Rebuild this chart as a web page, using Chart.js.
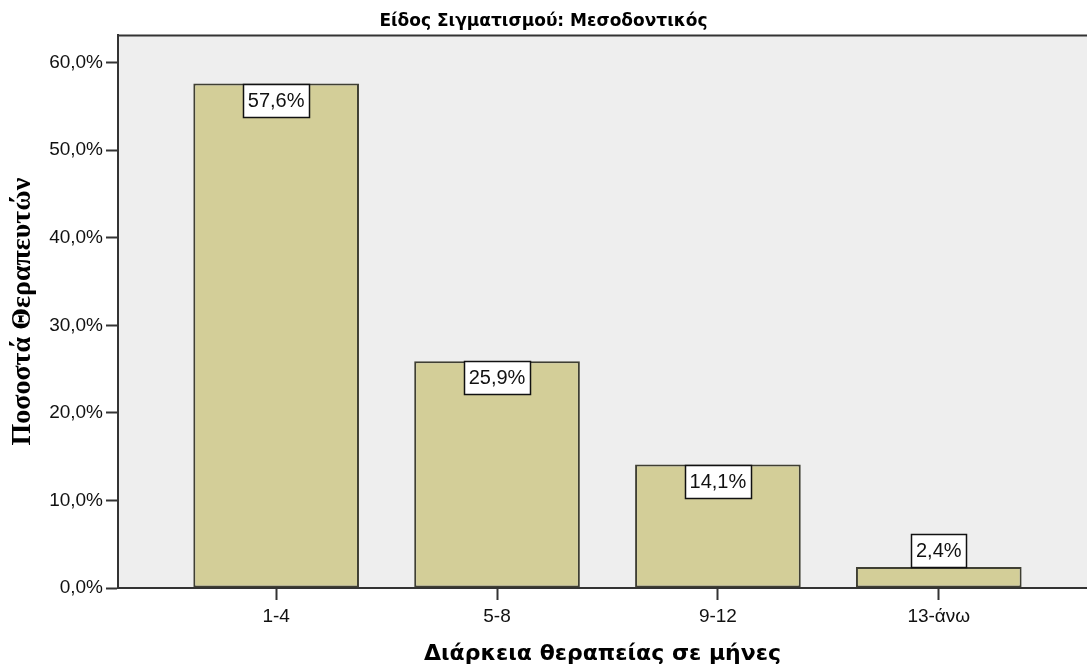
<!DOCTYPE html>
<html>
<head>
<meta charset="utf-8">
<script src="https://cdn.jsdelivr.net/npm/chart.js@4.4.1/dist/chart.umd.min.js"></script>
<style>
  html, body { margin: 0; padding: 0; background: #ffffff; overflow: hidden; }
  #wrap { width: 1087px; height: 671px; }
</style>
</head>
<body>
<div id="wrap"><canvas id="chart" width="1087" height="671"></canvas></div>
<script>
// Therapy duration groups and share of therapists in each
const categories = ['1-4', '5-8', '9-12', '13-άνω'];
const percentages = [57.6, 25.9, 14.1, 2.4];
const yTickValues = [0, 10, 20, 30, 40, 50, 60];

const chartTitle = 'Είδος Σιγματισμού: Μεσοδοντικός';
const xTitle = 'Διάρκεια θεραπείας σε μήνες';
const yTitle = 'Ποσοστά Θεραπευτών';

const pct = v => v.toFixed(1).replace('.', ',') + '%';

// Grey plot panel with a top edge line
const panelPlugin = {
  id: 'panel',
  beforeDraw(chart) {
    const { ctx, chartArea: a } = chart;
    ctx.save();
    ctx.fillStyle = '#eeeeee';
    ctx.fillRect(a.left, a.top, a.right - a.left, a.bottom - a.top);
    ctx.strokeStyle = '#333333';
    ctx.lineWidth = 2;
    ctx.beginPath();
    ctx.moveTo(a.left, a.top);
    ctx.lineTo(a.right + 2, a.top);
    ctx.stroke();
    ctx.restore();
  }
};

// Boxed value labels at the top of each bar (above it when the bar is too short)
const valueBoxPlugin = {
  id: 'valueBoxes',
  afterDatasetsDraw(chart) {
    const { ctx } = chart;
    const meta = chart.getDatasetMeta(0);
    const ds = chart.data.datasets[0];
    ctx.save();
    ctx.font = '20px "Liberation Sans", Arial, sans-serif';
    ctx.textAlign = 'center';
    ctx.textBaseline = 'middle';
    meta.data.forEach((bar, i) => {
      const text = pct(ds.data[i].y);
      const w = Math.round(ctx.measureText(text).width + 9);
      const h = 33;
      const barH = bar.base - bar.y;
      const top = barH > h + 4 ? bar.y : bar.y - h;
      const left = Math.round(bar.x - w / 2) + 0.5;
      ctx.fillStyle = '#ffffff';
      ctx.fillRect(left, Math.round(top) + 0.5, w, h);
      ctx.strokeStyle = '#111111';
      ctx.lineWidth = 1.5;
      ctx.strokeRect(left, Math.round(top) + 0.5, w, h);
      ctx.fillStyle = '#111111';
      ctx.fillText(text, bar.x, top + h / 2 + 1);
    });
    ctx.restore();
  }
};

new Chart(document.getElementById('chart'), {
  type: 'bar',
  data: {
    datasets: [{
      data: percentages.map((v, i) => ({ x: i, y: v })),
      backgroundColor: '#d3ce98',
      borderColor: '#3f3f33',
      borderWidth: 2,
      borderSkipped: false,
      barPercentage: 0.75,
      categoryPercentage: 1.0
    }]
  },
  options: {
    responsive: false,
    animation: false,
    events: [],
    layout: { padding: { left: 0, right: 0, top: 0, bottom: 0 } },
    plugins: {
      legend: { display: false },
      tooltip: { enabled: false },
      title: {
        display: true,
        text: chartTitle,
        color: '#000000',
        font: { family: '"DejaVu Sans", sans-serif', size: 17, weight: 'bold' },
        padding: { top: 11, bottom: 4 }
      }
    },
    scales: {
      x: {
        type: 'linear',
        offset: false,
        min: -0.716,
        max: 3.671,
        afterBuildTicks(scale) {
          scale.ticks = categories.map((_, i) => ({ value: i }));
        },
        afterFit(scale) { scale.height = 83; },
        ticks: {
          callback: v => categories[v] ?? '',
          color: '#111111',
          font: { family: '"Liberation Sans", Arial, sans-serif', size: 19 },
          padding: 5,
          maxRotation: 0,
          autoSkip: false
        },
        grid: {
          offset: false,
          drawOnChartArea: false,
          drawTicks: true,
          tickLength: 12,
          tickWidth: 2,
          tickColor: '#333333'
        },
        border: { display: true, color: '#333333', width: 2 },
        title: {
          display: true,
          text: xTitle,
          color: '#000000',
          font: { family: '"DejaVu Sans", sans-serif', size: 22, weight: 'bold' },
          padding: { top: 0, bottom: 4 }
        }
      },
      y: {
        min: 0,
        max: 63.1,
        afterBuildTicks(scale) {
          scale.ticks = yTickValues.map(v => ({ value: v }));
        },
        afterFit(scale) { scale.width = 118; },
        ticks: {
          callback: v => pct(v),
          color: '#111111',
          font: { family: '"Liberation Sans", Arial, sans-serif', size: 19 },
          padding: 3
        },
        grid: {
          drawOnChartArea: false,
          drawTicks: true,
          tickLength: 12,
          tickWidth: 2,
          tickColor: '#333333'
        },
        border: { display: true, color: '#333333', width: 2 },
        title: {
          display: true,
          text: yTitle,
          color: '#000000',
          font: { family: '"Liberation Serif", "Times New Roman", serif', size: 28, weight: 'bold' },
          padding: { top: 6, bottom: 0 }
        }
      }
    }
  },
  plugins: [panelPlugin, valueBoxPlugin]
});
</script>
</body>
</html>
